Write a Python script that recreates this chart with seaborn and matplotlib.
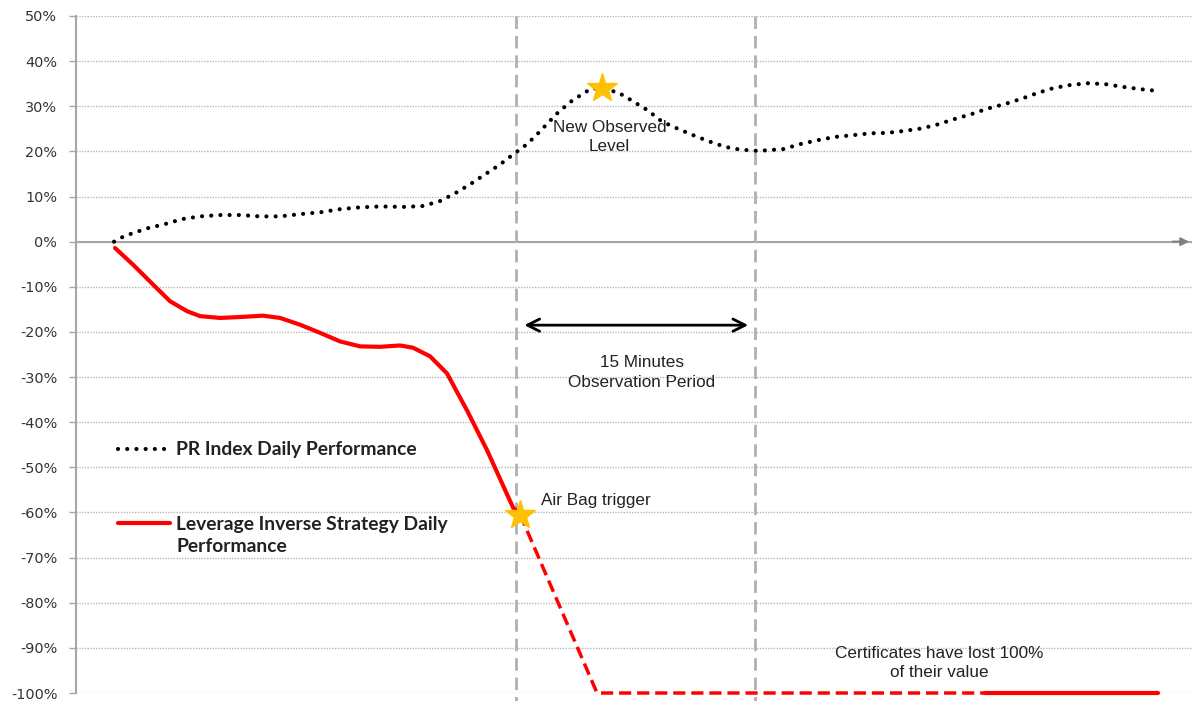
import matplotlib
matplotlib.use('Agg')
import matplotlib.pyplot as plt
import numpy as np
import pandas as pd
import seaborn as sns
from matplotlib.ticker import PercentFormatter

sns.set_style('white')
plt.rcParams['font.family'] = ['Liberation Sans', 'DejaVu Sans']
plt.rcParams['axes.unicode_minus'] = False

# PR index daily performance (intraday time index, values in %)
pr_t = [38, 48, 57, 72, 89, 106, 124, 144, 164, 184, 204, 224, 244, 264, 284,
        304, 329, 347, 364, 379, 394, 409, 424, 437, 451, 462, 481, 494, 509,
        517, 541, 554, 571, 586, 601, 617, 632, 649, 664, 682, 707, 724, 742,
        759, 777, 794, 811, 827, 846, 862, 879, 896, 912, 929, 946, 961, 977,
        994, 1012, 1029, 1047, 1064, 1081]
pr_v = [0.0, 1.2, 1.9, 3.0, 3.9, 5.0, 5.6, 5.9, 5.9, 5.6, 5.6, 6.1, 6.5, 7.2,
        7.6, 7.8, 7.7, 7.9, 9.0, 10.7, 12.7, 14.9, 17.1, 19.3, 21.6, 24.0, 28.4,
        30.9, 33.1, 34.0, 33.2, 31.5, 29.2, 26.6, 25.1, 23.6, 22.3, 21.0, 20.4,
        20.1, 20.5, 21.6, 22.5, 23.2, 23.6, 24.0, 24.1, 24.5, 25.1, 26.0, 27.2,
        28.3, 29.5, 30.5, 31.7, 32.9, 34.0, 34.7, 35.1, 34.9, 34.3, 33.8, 33.4]

# leverage inverse strategy, up to the air bag trigger
lev_t = [39, 57, 77, 94, 111, 124, 144, 164, 187, 204, 224, 244, 264, 284, 304,
         324, 337, 354, 371, 391, 411, 437, 444]
lev_v = [-1.4, -5.1, -9.5, -13.2, -15.4, -16.5, -16.9, -16.7, -16.4, -16.9,
         -18.4, -20.2, -22.1, -23.2, -23.3, -23.0, -23.5, -25.4, -29.2, -37.4,
         -46.2, -58.9, -60.4]

# after the trigger (dashed) and the flat end (solid)
after_t = [444, 521, 909]
after_v = [-60.4, -100.0, -100.0]
end_t = [909, 1082]
end_v = [-100.0, -100.0]

peak = (526, 34.0)
trigger = (444, -60.5)
obs_start, obs_end = 439.5, 679

pr = pd.DataFrame({'t': pr_t, 'v': pr_v})
lev = pd.DataFrame({'t': lev_t, 'v': lev_v})

fig = plt.figure(figsize=(11.92, 7.01), dpi=100)
ax = fig.add_axes([0.0638, 0.0114, 0.9362, 0.9658])

grey = '#a6a6a6'
ax.set_ylim(-100, 50)
ax.set_xlim(0, 1116)
ax.set_yticks(np.arange(-100, 51, 10))
ax.yaxis.set_major_formatter(PercentFormatter(decimals=0))
ax.set_xticks([])
ax.grid(axis='y', color='#b8b8b8', linestyle=(0, (1, 1)), lw=1)
for s in ['top', 'right', 'bottom']:
    ax.spines[s].set_visible(False)
ax.spines['left'].set_color(grey)
ax.spines['left'].set_linewidth(1.5)
ax.tick_params(axis='y', left=True, length=5, width=1, color=grey,
               labelsize=10.4, labelcolor='#333333', pad=8.5)
for lab in ax.get_yticklabels():
    lab.set_family('DejaVu Sans')

# zero line with arrow
ax.axhline(0, color=grey, lw=1.5, zorder=1)
ax.annotate('', xy=(1.0, 0), xycoords=('axes fraction', 'data'),
            xytext=(0.98, 0), textcoords=('axes fraction', 'data'),
            arrowprops=dict(arrowstyle='-|>', color='#808080', lw=1.5,
                            mutation_scale=12), annotation_clip=False)

# observation window
for xv in [obs_start, obs_end]:
    ax.plot([xv, xv], [50, -102], color='#b0b0b0', lw=2,
            linestyle=(0, (4.5, 2.5)), clip_on=False, zorder=2)

dots = (0, (0.01, 2.2))
sns.lineplot(data=pr, x='t', y='v', ax=ax, color='black', lw=3,
             linestyle=dots, dash_capstyle='round', sort=False, zorder=4)
sns.lineplot(data=lev, x='t', y='v', ax=ax, color='#ff0000', lw=3, sort=False,
             zorder=4)
ax.plot(after_t, after_v, color='#ff0000', lw=2.5, linestyle=(0, (3.5, 1.7)),
        zorder=4, clip_on=False)
ax.plot(end_t, end_v, color='#ff0000', lw=3, zorder=4, clip_on=False)
ax.set_xlabel('')
ax.set_ylabel('')

# stars
ax.plot(*peak, marker='*', ms=22, color='#ffc000', mec='#ffc000', zorder=5)
ax.plot(*trigger, marker='*', ms=22, color='#ffc000', mec='#ffc000', zorder=5)

ax.annotate('', xy=(obs_end - 4, -18.5), xytext=(obs_start + 6, -18.5),
            arrowprops=dict(arrowstyle='<->', color='black', lw=2,
                            mutation_scale=22))

tk = dict(fontsize=12.3, color='#222222', ha='center', va='center',
          linespacing=1.35)
ax.text(533.5, 23.2, 'New Observed\nLevel', **tk)
ax.text(565.7, -29.0, '15 Minutes\nObservation Period', **tk)
ax.text(863, -93.3, 'Certificates have lost 100%\nof their value', **tk)
ax.text(465, -57.3, 'Air Bag trigger', fontsize=12.3, color='#222222',
        ha='left', va='center')

# legend
ax.plot([42, 89], [-46.0, -46.0], color='black', lw=3, linestyle=dots,
        dash_capstyle='round')
ax.plot([42, 94], [-62.4, -62.4], color='#ff0000', lw=3)
lk = dict(fontsize=13.9, fontweight='bold', color='#222222', ha='left',
          va='center', family=['Lato', 'DejaVu Sans'])
ax.text(100, -46.0, 'PR Index Daily Performance', **lk)
ax.text(100, -65.1, 'Leverage Inverse Strategy Daily\nPerformance',
        linespacing=1.35, **lk)

fig.savefig('out.png', dpi=100)
